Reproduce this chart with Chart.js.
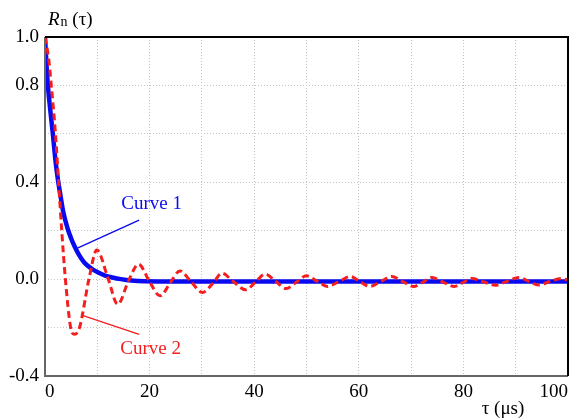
<!DOCTYPE html>
<html><head><meta charset="utf-8">
<script src="https://cdn.jsdelivr.net/npm/chart.js@4"></script>
<style>html,body{margin:0;padding:0;background:#fff}#wrap{width:573px;height:420px}</style>
</head><body><div id="wrap"><canvas id="c" width="573" height="420"></canvas></div>
<script>
// ---- data ----
const tau1 = [0, 0.3, 0.55, 1.0, 1.5, 2.0, 2.45, 3.0, 3.5, 4.35, 5.0, 5.6, 6.5, 7.5, 8.8, 10.1, 11.5, 12.9, 14.5, 16.5, 19, 25, 40, 60, 80, 100];
const curve1 = [1.0, 0.88, 0.8, 0.7, 0.6, 0.49, 0.414, 0.34, 0.276, 0.207, 0.168, 0.138, 0.1, 0.069, 0.045, 0.028, 0.015, 0.007, 0.0, -0.006, -0.009, -0.01, -0.01, -0.01, -0.01, -0.01];
const tau2 = [0, 0.7, 1.2, 2.0, 2.6, 3.2, 3.9, 4.9, 5.6, 6.6, 8.4, 9.9, 12.1, 13.9, 16.0, 17.9, 19.9, 22.0, 24.1, 25.8, 27.9, 30.1, 32.3, 33.8, 36.0, 38.4, 40.3, 42.1, 44.1, 46.1, 48.1, 50.0, 52.0, 54.0, 56.2, 58.4, 60.2, 62.1, 64.2, 66.3, 68.4, 70.5, 72.3, 74.0, 76.1, 78.3, 80.0, 81.6, 83.8, 86.1, 88.3, 90.6, 92.5, 94.4, 96.5, 98.7, 100];
const curve2 = [1.0, 0.91, 0.8, 0.6, 0.4, 0.2, 0.0, -0.2, -0.228, -0.2, 0.0, 0.12, 0.0, -0.104, -0.005, 0.062, -0.007, -0.069, -0.01, 0.034, -0.01, -0.055, -0.012, 0.025, -0.01, -0.044, -0.011, 0.021, -0.009, -0.039, -0.012, 0.014, -0.008, -0.030, -0.01, 0.011, -0.01, -0.030, -0.01, 0.011, -0.01, -0.030, -0.012, 0.007, -0.012, -0.030, -0.013, 0.003, -0.011, -0.025, -0.009, 0.007, -0.009, -0.024, -0.01, 0.003, -0.004];
const seriesNames = ['Curve 1', 'Curve 2'];
const xTickLabels = [0, 20, 40, 60, 80, 100];
const yTickLabels = [1.0, 0.8, 0.4, 0.0, -0.4];

// ---- styling / layout ----
const FONT = '"Liberation Serif", "Times New Roman", serif';
const BLUE = '#0a0af0';
const RED = '#f51e1e';
const annotations = [
  {name: seriesNames[0], color: BLUE, textAt: [14.6, 0.31], line: [[6.2, 0.128], [18.0, 0.244]]},
  {name: seriesNames[1], color: RED, textAt: [14.4, -0.29], line: [[7.0, -0.149], [18.0, -0.228]]}
];

const toPts = (xs, ys) => xs.map((x, i) => ({x: x, y: ys[i]}));
const near = (arr, v) => arr.some(a => Math.abs(a - v) < 1e-6);

const decor = {
  id: 'decor',
  afterDatasetsDraw(chart) {
    const {ctx, chartArea: a, scales: {x, y}} = chart;
    ctx.save();
    // frame
    ctx.lineWidth = 2;
    ctx.strokeStyle = '#666';
    ctx.beginPath();
    ctx.moveTo(a.left, a.top); ctx.lineTo(a.left, a.bottom); ctx.lineTo(a.right, a.bottom);
    ctx.stroke();
    ctx.strokeStyle = '#000';
    ctx.beginPath();
    ctx.moveTo(a.left, a.top); ctx.lineTo(a.right, a.top); ctx.lineTo(a.right, a.bottom);
    ctx.stroke();
    // annotations
    annotations.forEach(an => {
      ctx.strokeStyle = an.color;
      ctx.lineWidth = 1.3;
      ctx.beginPath();
      ctx.moveTo(x.getPixelForValue(an.line[0][0]), y.getPixelForValue(an.line[0][1]));
      ctx.lineTo(x.getPixelForValue(an.line[1][0]), y.getPixelForValue(an.line[1][1]));
      ctx.stroke();
      ctx.fillStyle = an.color;
      ctx.font = '19px ' + FONT;
      ctx.textAlign = 'left';
      ctx.textBaseline = 'middle';
      ctx.fillText(an.name, x.getPixelForValue(an.textAt[0]), y.getPixelForValue(an.textAt[1]));
    });
    // y axis title: R_n (τ)
    ctx.fillStyle = '#000';
    ctx.textBaseline = 'alphabetic';
    ctx.textAlign = 'left';
    let px = a.left + 3, py = a.top - 12;
    ctx.font = 'italic 19px ' + FONT;
    ctx.fillText('R', px, py);
    px += ctx.measureText('R').width + 1;
    ctx.font = '14px ' + FONT;
    ctx.fillText('n', px, py + 1);
    px += ctx.measureText('n').width;
    ctx.font = '19px ' + FONT;
    ctx.fillText(' (τ)', px, py);
    // x axis title
    ctx.textAlign = 'center';
    ctx.fillText('τ (μs)', a.right - 65, a.bottom + 38);
    ctx.restore();
  }
};

new Chart(document.getElementById('c'), {
  type: 'line',
  data: {
    datasets: [
      {label: seriesNames[1], data: toPts(tau2, curve2), borderColor: RED, borderWidth: 3, borderDash: [7, 4],
       pointRadius: 0, cubicInterpolationMode: 'monotone', fill: false},
      {label: seriesNames[0], data: toPts(tau1, curve1), borderColor: BLUE, borderWidth: 4.5,
       pointRadius: 0, cubicInterpolationMode: 'monotone', fill: false}
    ]
  },
  options: {
    responsive: false,
    animation: false,
    devicePixelRatio: 1,
    layout: {padding: {top: 37, right: 3, left: 0, bottom: 0}},
    plugins: {legend: {display: false}, tooltip: {enabled: false}},
    scales: {
      x: {
        type: 'linear', min: 0, max: 100,
        afterFit: s => { s.height = 44; },
        grid: {color: '#c4c4c4', lineWidth: 1, drawTicks: false},
        border: {display: false, dash: [1, 2]},
        ticks: {stepSize: 10, align: 'inner', padding: 5, color: '#000', font: {family: FONT, size: 19},
          callback: v => near(xTickLabels, v) ? String(Math.round(v)) : ''}
      },
      y: {
        type: 'linear', min: -0.4, max: 1.0,
        afterFit: s => { s.width = 45; },
        grid: {color: '#c4c4c4', lineWidth: 1, drawTicks: false},
        border: {display: false, dash: [1, 2]},
        ticks: {stepSize: 0.2, padding: 6, color: '#000', font: {family: FONT, size: 19},
          callback: v => near(yTickLabels, v) ? (Math.abs(v) < 1e-9 ? '0.0' : v.toFixed(1)) : ''}
      }
    }
  },
  plugins: [decor]
});
</script>
</body></html>
